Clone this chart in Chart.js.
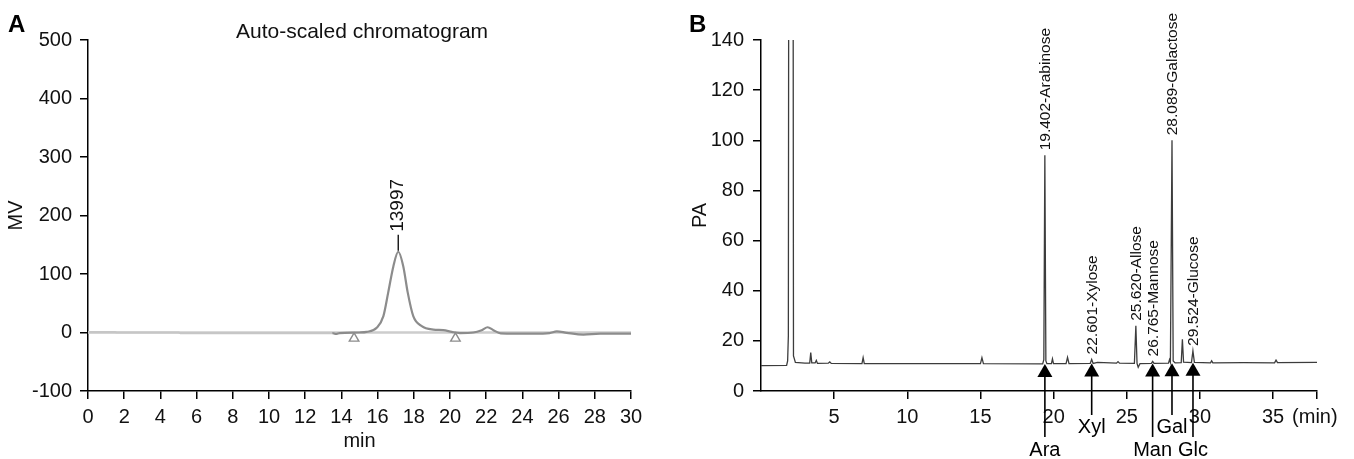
<!DOCTYPE html>
<html lang="en">
<head>
<meta charset="utf-8">
<title>Chromatograms A / B</title>
<script src="https://cdn.jsdelivr.net/npm/chart.js@4.4.0/dist/chart.umd.min.js"></script>
<style>
  body { margin: 0; background: #fff; }
  #wrap { position: relative; width: 1354px; height: 459px; }
  canvas { position: absolute; top: 0; }
  #chartA { left: 0; }
  #chartB { left: 680px; }
</style>
</head>
<body>
<div id="wrap">
  <canvas id="chartA" width="680" height="459"></canvas>
  <canvas id="chartB" width="674" height="459"></canvas>
</div>
<script>
  // ---- panel A : auto-scaled chromatogram (MV vs min) ----
  const aTime   = [0, 1.5, 1.6, 5.0, 5.1, 13.5, 13.7, 13.9, 15.0, 15.39, 15.95, 16.32, 16.59, 16.87, 17.14, 17.42, 17.66, 17.97, 18.44, 19.08, 19.63, 20.1, 20.55, 21.29, 21.75, 22.08, 22.4, 22.8, 24.6, 25.5, 25.9, 26.45, 27.37, 28.3, 30];
  const aSignal = [0.5, 0.5, 0, 0, -1, -1, -2.5, -1, 0, 1, 8, 28, 69, 113, 138, 113, 69, 28, 11, 5, 4, 1, -1, 0, 4, 9, 4, -1.5, -2, -1, 2, -0.5, -3.5, -2, -2];
  const aBaseTime = [0, 30];
  const aBaseSignal = [0, 0];
  const aMarkTime = [14.7, 20.3];      // integration start / end
  const aMarkValue = [-10, -10];
  const aPeakTime = 17.14;
  const aPeakLabel = '13997';

  // ---- panel B : GC of monosaccharides (PA vs min) ----
  const bTime   = [0, 1.75, 1.82, 1.87, 1.93, 2.16, 2.22, 2.35, 3.0, 3.33, 3.4, 3.47, 3.7, 3.78, 3.86, 4.6, 4.7, 4.8, 6.9, 6.98, 7.06, 12.0, 15.0, 15.1, 15.2, 19.25, 19.33, 19.40, 19.47, 19.54, 19.85, 19.92, 19.99, 20.85, 20.95, 21.05, 22.5, 22.6, 22.7, 23.0, 24.3, 24.4, 24.5, 25.52, 25.62, 25.7, 25.78, 25.9, 26.68, 26.77, 26.86, 27.85, 27.92, 27.98, 28.09, 28.17, 28.3, 28.72, 28.8, 28.88, 29.42, 29.52, 29.62, 30.72, 30.8, 30.88, 33, 35.1, 35.2, 35.3, 38];
  const bSignal = [10.1, 10.2, 12, 22, 400, 400, 14, 11.4, 11.1, 11.1, 15.3, 11.2, 11.2, 12.2, 11.0, 11.1, 11.6, 11.0, 10.9, 13.3, 10.9, 10.9, 10.9, 13.3, 10.9, 10.8, 12.5, 94, 12, 10.9, 10.9, 12.8, 10.9, 10.9, 13.4, 10.9, 11, 12.6, 11, 11.4, 11.1, 11.7, 11.1, 11, 26, 11, 9.5, 10.9, 11, 11.8, 11, 11.1, 12.5, 11.5, 100, 12, 11.2, 11.3, 20.6, 11.5, 11.3, 16, 11.4, 11.2, 12, 11.2, 11.3, 11.2, 12.3, 11.3, 11.4];
  const bPeakTimes  = [19.402, 22.601, 25.620, 26.765, 28.089, 29.524];
  const bPeakLabels = ['19.402-Arabinose', '22.601-Xylose', '25.620-Allose', '26.765-Mannose', '28.089-Galactose', '29.524-Glucose'];
  const bStdTimes = [19.402, 22.601, 26.765, 28.089, 29.524];
  const bStdNames = ['Ara', 'Xyl', 'Man', 'Gal', 'Glc'];
  const bXTicks = [5, 10, 15, 20, 25, 30, 35, 38];

  const FONT = '"Liberation Sans", Arial, sans-serif';
  Chart.defaults.font.family = FONT;
  Chart.defaults.font.size = 20;
  Chart.defaults.color = '#111';

  function pts(xs, ys) {
    return xs.map((x, i) => ({x: x, y: ys[i]}));
  }
  function near(xs, ys, t, w, pick) {
    const v = ys.filter((y, i) => Math.abs(xs[i] - t) <= w);
    return pick(...v);
  }

  function axisX(min, max, extra) {
    return Object.assign({
      type: 'linear', min: min, max: max,
      grid: {drawOnChartArea: false, drawTicks: true, tickLength: 8, color: '#000', lineWidth: 1.5},
      border: {display: true, color: '#000', width: 1.5},
      ticks: {padding: 6, maxRotation: 0, autoSkip: false, color: '#111'},
      afterFit: s => { s.height = 68; }
    }, extra);
  }

  // ---- chart A ----
  const notesA = {
    id: 'notesA',
    afterDraw(chart) {
      const {ctx, scales: {x, y}} = chart;
      ctx.save();
      ctx.fillStyle = '#000';
      ctx.font = 'bold 24px ' + FONT;
      ctx.textAlign = 'left';
      ctx.textBaseline = 'alphabetic';
      ctx.fillText('A', 8, 32);
      ctx.font = '21px ' + FONT;
      ctx.textAlign = 'center';
      ctx.textBaseline = 'middle';
      ctx.fillStyle = '#111';
      ctx.fillText('Auto-scaled chromatogram', 362, 32);
      // peak label
      const px = x.getPixelForValue(aPeakTime);
      const py = y.getPixelForValue(near(aTime, aSignal, aPeakTime, 0.05, Math.max));
      ctx.strokeStyle = '#000';
      ctx.lineWidth = 1.3;
      ctx.beginPath();
      ctx.moveTo(px, py - 1);
      ctx.lineTo(px, py - 17);
      ctx.stroke();
      ctx.translate(px, py - 20);
      ctx.rotate(-Math.PI / 2);
      ctx.textAlign = 'left';
      ctx.font = '19px ' + FONT;
      ctx.fillText(aPeakLabel, 0, 0);
      ctx.restore();
    }
  };

  new Chart(document.getElementById('chartA'), {
    type: 'line',
    data: {
      datasets: [
        {
          data: pts(aTime, aSignal),
          borderColor: '#8c8c8c',
          borderWidth: 2.2,
          pointRadius: 0,
          cubicInterpolationMode: 'monotone',
          segment: {borderColor: c => c.p1.parsed.x <= 13.5 ? '#c6c6c6' : undefined},
          order: 1
        },
        {
          data: pts(aBaseTime, aBaseSignal),
          borderColor: '#cdcdcd',
          borderWidth: 2.4,
          pointRadius: 0,
          order: 2
        },
        {
          type: 'scatter',
          data: pts(aMarkTime, aMarkValue),
          pointStyle: 'triangle',
          pointRadius: 5.5,
          backgroundColor: '#fff',
          borderColor: '#8c8c8c',
          borderWidth: 1.4,
          order: 0
        }
      ]
    },
    options: {
      responsive: false,
      animation: false,
      events: [],
      layout: {padding: {left: 0, right: 49, top: 40, bottom: 0}},
      plugins: {legend: {display: false}, tooltip: {enabled: false}},
      scales: {
        x: axisX(0, 30, {
          ticks: {stepSize: 2, padding: 6, maxRotation: 0, autoSkip: false, color: '#111'},
          title: {display: true, text: 'min', color: '#111', padding: {top: 6, bottom: 6}}
        }),
        y: {
          min: -100, max: 500,
          grid: {drawOnChartArea: false, drawTicks: true, tickLength: 8, color: '#000', lineWidth: 1.5},
          border: {display: true, color: '#000', width: 1.5},
          ticks: {stepSize: 100, padding: 8, color: '#111'},
          title: {display: true, text: 'MV', color: '#111', padding: {top: 4, bottom: 4}},
          afterFit: s => { s.width = 88; }
        }
      }
    },
    plugins: [notesA]
  });

  // ---- chart B ----
  const notesB = {
    id: 'notesB',
    afterDraw(chart) {
      const {ctx, chartArea, scales: {x, y}} = chart;
      ctx.save();
      ctx.fillStyle = '#000';
      ctx.font = 'bold 24px ' + FONT;
      ctx.textAlign = 'left';
      ctx.textBaseline = 'alphabetic';
      ctx.fillText('B', 9, 32);

      // unit after last labelled tick
      ctx.fillStyle = '#111';
      ctx.font = '20px ' + FONT;
      ctx.textBaseline = 'middle';
      ctx.fillText('(min)', x.getPixelForValue(35) + 19, chartArea.bottom + 26);

      // retention time / name labels above peaks
      ctx.font = '15.5px ' + FONT;
      bPeakLabels.forEach((txt, i) => {
        const px = x.getPixelForValue(bPeakTimes[i]);
        const py = y.getPixelForValue(near(bTime, bSignal, bPeakTimes[i], 0.12, Math.max));
        ctx.save();
        ctx.translate(px + 1, py - 5);
        ctx.rotate(-Math.PI / 2);
        ctx.textAlign = 'left';
        ctx.textBaseline = 'middle';
        ctx.fillText(txt, 0, 0);
        ctx.restore();
      });

      // standard arrows
      ctx.strokeStyle = '#000';
      ctx.fillStyle = '#000';
      ctx.lineWidth = 1.6;
      ctx.font = '20px ' + FONT;
      ctx.textAlign = 'center';
      ctx.textBaseline = 'middle';
      bStdNames.forEach((name, i) => {
        const px = x.getPixelForValue(bStdTimes[i]);
        const tip = y.getPixelForValue(near(bTime, bSignal, bStdTimes[i], 0.3, Math.min));
        const low = i % 2 === 0;
        const end = chartArea.bottom + (low ? 46 : 24);
        ctx.beginPath();
        ctx.moveTo(px, tip + 10);
        ctx.lineTo(px, end);
        ctx.stroke();
        ctx.beginPath();
        ctx.moveTo(px, tip);
        ctx.lineTo(px - 7.5, tip + 13);
        ctx.lineTo(px + 7.5, tip + 13);
        ctx.closePath();
        ctx.fill();
        ctx.fillText(name, px, end + (low ? 13 : 12));
      });
      ctx.restore();
    }
  };

  new Chart(document.getElementById('chartB'), {
    type: 'line',
    data: {
      datasets: [{
        data: pts(bTime, bSignal),
        borderColor: '#3c3c3c',
        borderWidth: 1.3,
        pointRadius: 0,
        tension: 0
      }]
    },
    options: {
      responsive: false,
      animation: false,
      events: [],
      layout: {padding: {left: 0, right: 37, top: 40, bottom: 0}},
      plugins: {legend: {display: false}, tooltip: {enabled: false}},
      scales: {
        x: axisX(0, 38, {
          afterBuildTicks: s => { s.ticks = bXTicks.map(v => ({value: v})); },
          ticks: {padding: 6, maxRotation: 0, autoSkip: false, color: '#111',
                  callback: v => (v === 38 ? '' : v)}
        }),
        y: {
          min: 0, max: 140,
          grid: {drawOnChartArea: false, drawTicks: true, tickLength: 8, color: '#000', lineWidth: 1.5},
          border: {display: true, color: '#000', width: 1.5},
          ticks: {stepSize: 20, padding: 9, color: '#111'},
          title: {display: true, text: 'PA', color: '#111', padding: {top: 8, bottom: 4}},
          afterFit: s => { s.width = 81; }
        }
      }
    },
    plugins: [notesB]
  });
</script>
</body>
</html>
